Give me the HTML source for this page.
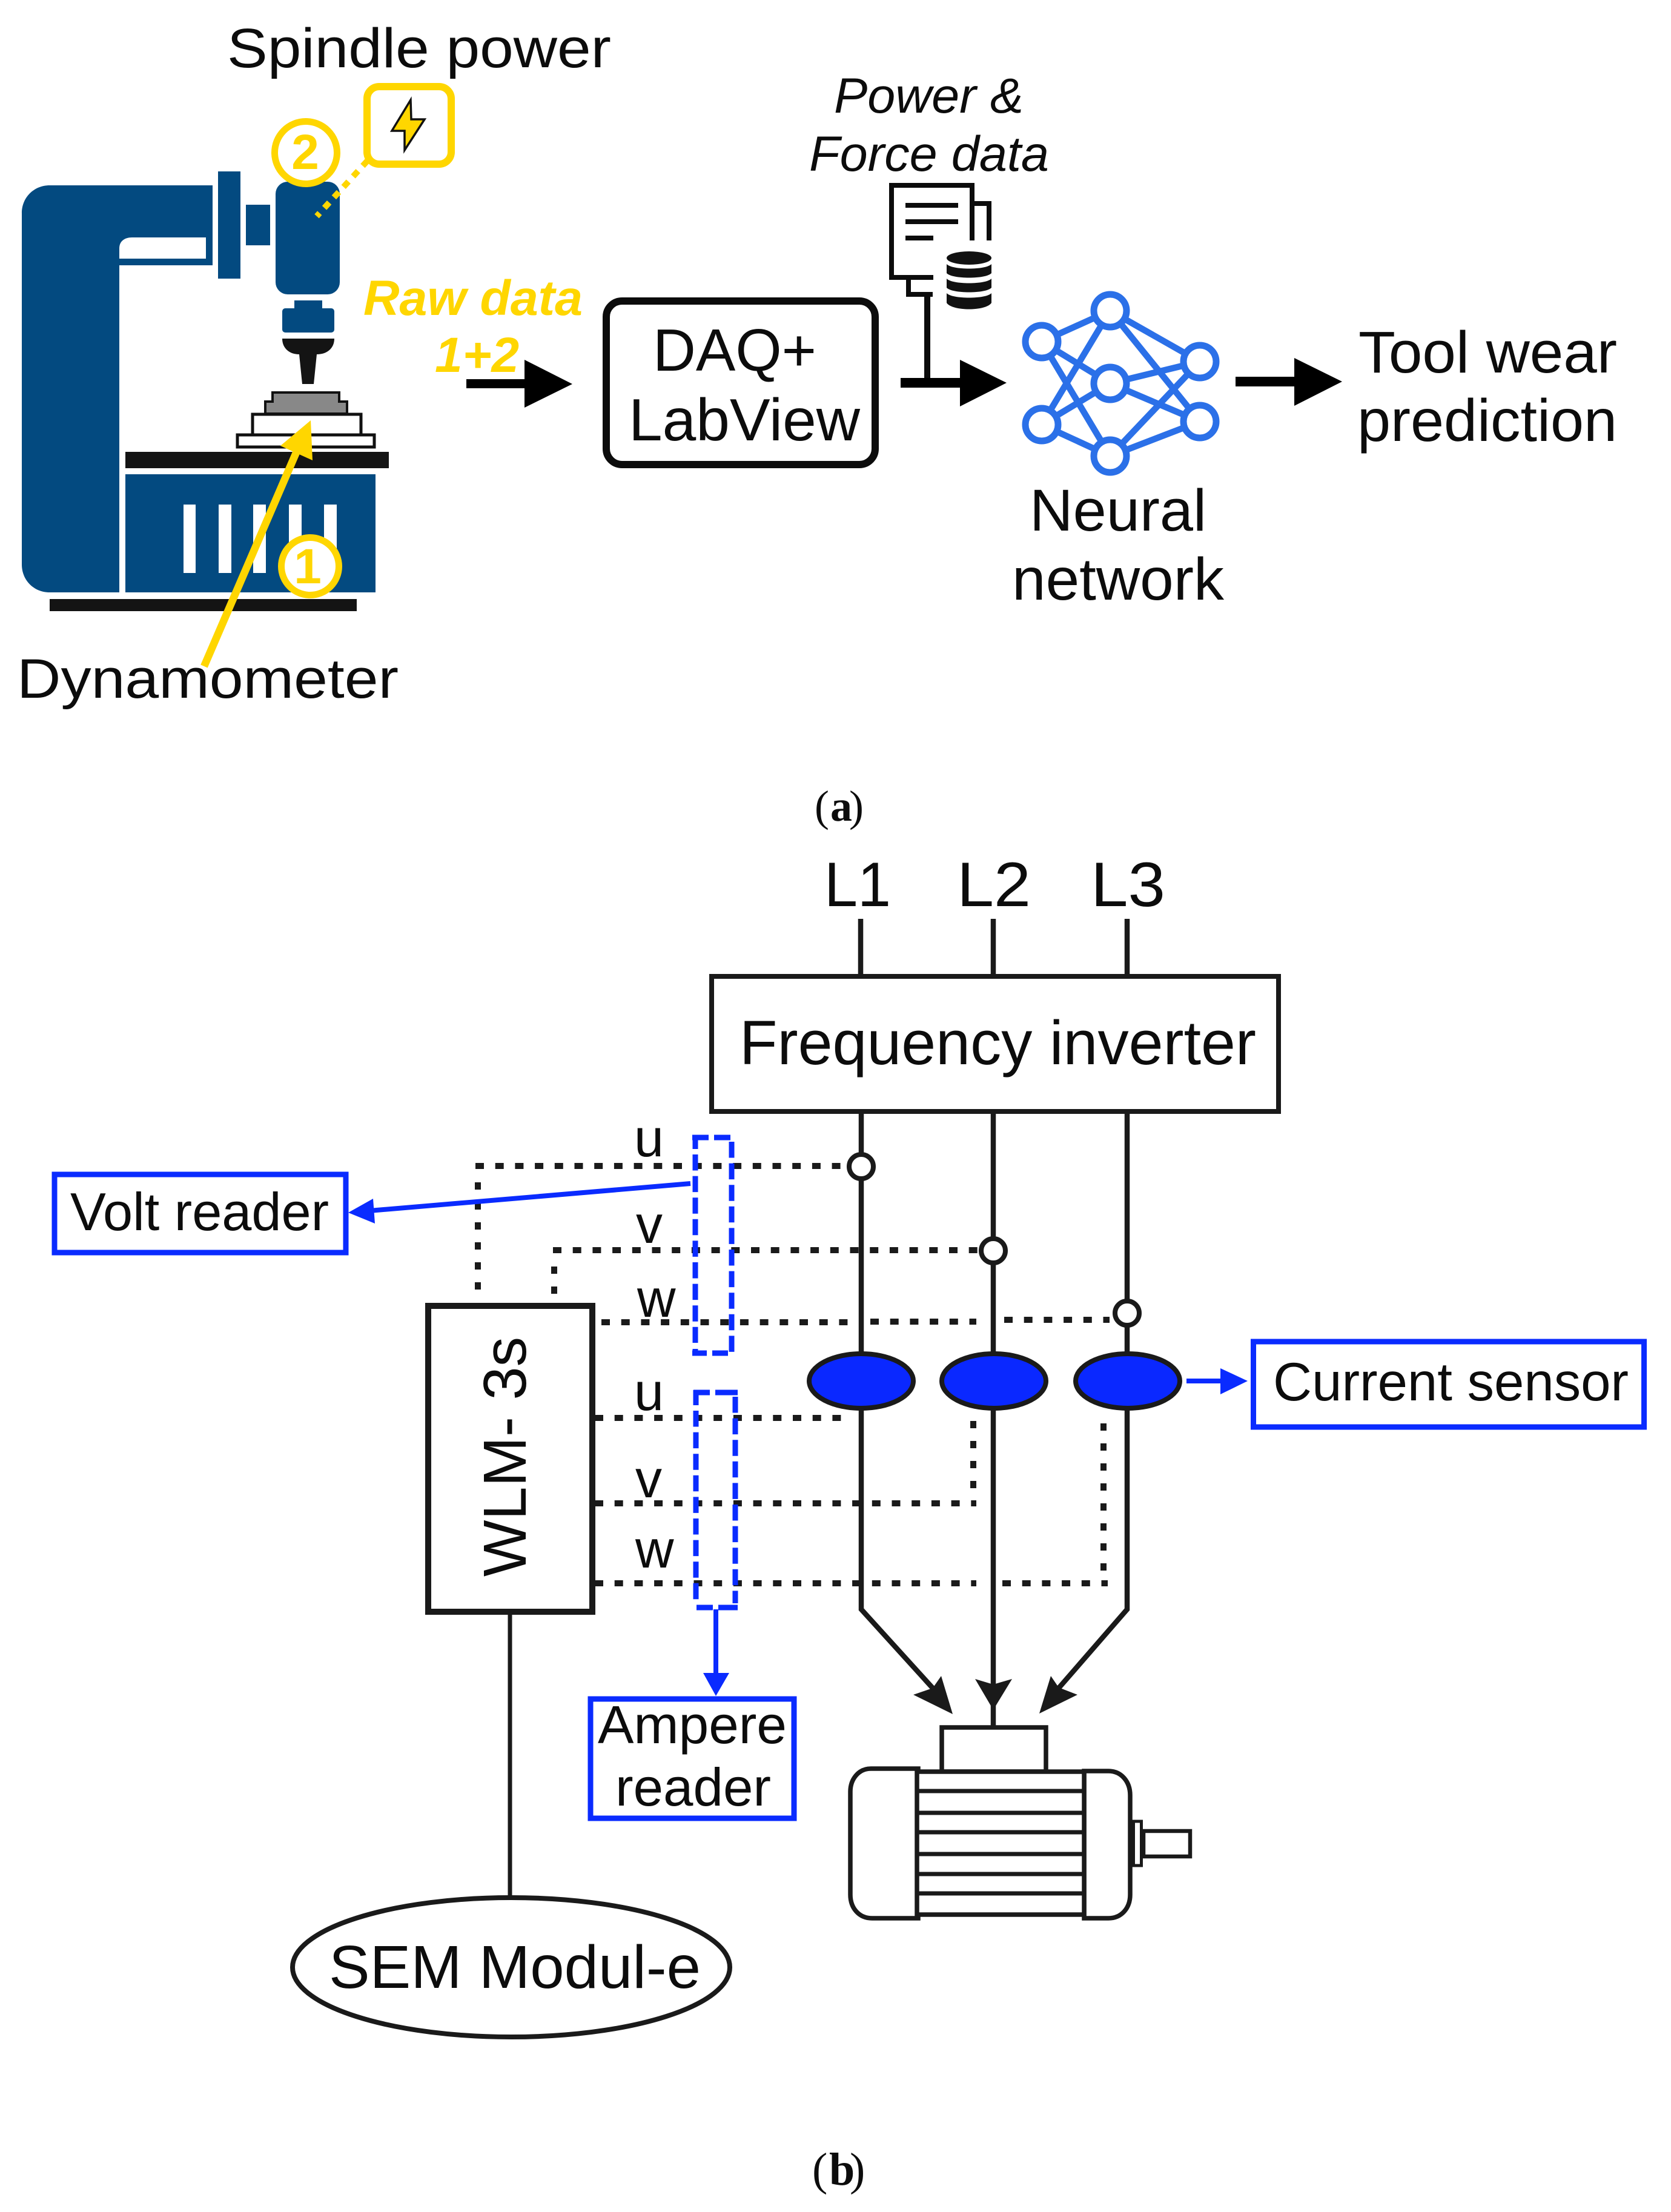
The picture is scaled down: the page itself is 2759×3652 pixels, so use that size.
<!DOCTYPE html>
<html>
<head>
<meta charset="utf-8">
<style>
html,body{margin:0;padding:0;background:#fff;}
svg{display:block;}
text{font-family:"Liberation Sans",sans-serif;fill:#0c0c0c;}
.serif{font-family:"Liberation Serif",serif;}
.dot{fill:none;stroke:#1a1a1a;stroke-width:10;stroke-dasharray:14 18.7;}
.dv{fill:none;stroke:#1a1a1a;stroke-width:10;stroke-dasharray:12 21;}
.dash{fill:none;stroke:#0a2bff;stroke-width:9;stroke-dasharray:26.5 9.1;}
.sol{fill:none;stroke:#0a2bff;stroke-width:9;}
.wire{fill:none;stroke:#1a1a1a;stroke-width:8.5;}
.bx{fill:#fff;stroke:#0a2bff;stroke-width:9;}
.m{fill:#034a80;}
.k{fill:#141414;}
.nn{stroke:#2b70e8;stroke-width:10.5;fill:none;}
</style>
</head>
<body>
<svg xmlns="http://www.w3.org/2000/svg" width="2759" height="3652" viewBox="0 0 2759 3652">
<rect width="2759" height="3652" fill="#fff"/>

<!-- (a) machine -->
<path class="m" d="M351 306H82C56 306 36 326 36 352V932C36 958 56 978 82 978H197V438H351Z"/>
<path fill="#fff" d="M197 427V410C197 398 206 392 218 392H340V427Z"/>
<rect class="m" x="360" y="283" width="37" height="177"/>
<rect class="m" x="406" y="338" width="40" height="67"/>
<rect class="m" x="455" y="300" width="106" height="186" rx="20"/>
<rect class="m" x="486" y="496" width="46" height="20"/>
<rect class="m" x="466" y="509" width="86" height="40" rx="5"/>
<path class="k" d="M466 559H552C552 575 540 585 523 585L518 634H499L494 585C478 585 466 575 466 559Z"/>
<path fill="#888" stroke="#111" stroke-width="4" d="M450 663V648H560V663H573V683H438V663Z"/>
<rect x="417" y="684" width="179" height="34" fill="#fff" stroke="#111" stroke-width="5"/>
<rect x="392" y="718" width="226" height="20" fill="#fff" stroke="#111" stroke-width="5"/>
<rect class="k" x="207" y="746" width="435" height="27"/>
<rect class="m" x="207" y="783" width="413" height="195"/>
<g fill="#fff">
<rect x="303" y="833" width="20" height="113"/>
<rect x="361" y="833" width="21" height="113"/>
<rect x="418" y="833" width="21" height="113"/>
<rect x="477" y="833" width="21" height="113"/>
<rect x="535" y="833" width="21" height="113"/>
</g>
<rect class="k" x="82" y="989" width="507" height="20"/>

<!-- yellow annotations -->
<line x1="337" y1="1100" x2="490" y2="745" stroke="#ffd600" stroke-width="12.5"/>
<polygon points="513,694 463,736 516,760" fill="#ffd600"/>
<circle cx="512" cy="935" r="47.5" fill="#fff" stroke="#ffd600" stroke-width="11"/>
<text x="508" y="963" font-size="82" font-weight="bold" text-anchor="middle" style="fill:#ffd600">1</text>
<circle cx="505" cy="252" r="51.5" fill="#fff" stroke="#ffd600" stroke-width="11"/>
<text x="504" y="279" font-size="82" font-weight="bold" text-anchor="middle" style="fill:#ffd600">2</text>
<rect x="606" y="143" width="139" height="128" rx="20" fill="#fff" stroke="#ffd600" stroke-width="12"/>
<polygon points="678,165 647,216 668,216 668,248 701,197 679,197" fill="#ffd600" stroke="#111" stroke-width="3.5"/>
<line x1="607" y1="265" x2="523" y2="357" stroke="#ffd600" stroke-width="10" stroke-dasharray="12 11.5"/>

<text x="375" y="111" font-size="92" textLength="634" lengthAdjust="spacingAndGlyphs">Spindle power</text>
<text x="28" y="1152" font-size="92" textLength="630" lengthAdjust="spacingAndGlyphs">Dynamometer</text>
<text x="600" y="520" font-size="82" font-weight="bold" font-style="italic" textLength="362" lengthAdjust="spacingAndGlyphs" style="fill:#ffd600">Raw data</text>
<text x="718" y="614" font-size="82" font-weight="bold" font-style="italic" style="fill:#ffd600">1+2</text>

<!-- flow arrows -->
<rect x="770" y="626" width="100" height="15" fill="#000"/>
<polygon points="866,594 945,634 866,673" fill="#000"/>
<rect x="1001" y="497" width="444" height="270" rx="26" fill="#fff" stroke="#0c0c0c" stroke-width="12"/>
<text x="1078" y="612" font-size="98" textLength="270" lengthAdjust="spacingAndGlyphs">DAQ+</text>
<text x="1038" y="727" font-size="98" textLength="382" lengthAdjust="spacingAndGlyphs">LabView</text>

<text x="1377" y="186" font-size="82" font-style="italic" textLength="313" lengthAdjust="spacingAndGlyphs">Power &amp;</text>
<text x="1336" y="282" font-size="82" font-style="italic" textLength="396" lengthAdjust="spacingAndGlyphs">Force data</text>

<!-- document + db icon -->
<path fill="none" stroke="#0c0c0c" stroke-width="8" d="M1541 458H1472V306H1605V397M1609 336H1633V397"/>
<path fill="none" stroke="#0c0c0c" stroke-width="8" d="M1500 462V486H1540"/>
<path stroke="#0c0c0c" stroke-width="8" d="M1495 339H1582M1495 366H1582M1495 393H1541"/>
<g fill="#111">
<ellipse cx="1600" cy="426" rx="37" ry="11"/>
<path d="M1563 436C1572 446 1628 446 1637 436V451C1628 461 1572 461 1563 451Z"/>
<path d="M1563 460C1572 470 1628 470 1637 460V475C1628 485 1572 485 1563 475Z"/>
<path d="M1563 484C1572 494 1628 494 1637 484V500C1628 514 1572 514 1563 500Z"/>
</g>
<line x1="1531" y1="486" x2="1531" y2="628" stroke="#0c0c0c" stroke-width="10"/>
<rect x="1487" y="624" width="102" height="16" fill="#000"/>
<polygon points="1585,594 1662,632 1585,671" fill="#000"/>

<!-- neural network -->
<g class="nn">
<path d="M1720 564L1833 513L1981 597M1833 513L1981 696M1833 513L1720 701M1720 564L1833 753M1720 564L1833 633L1981 597M1833 633L1981 696M1833 633L1720 701M1720 701L1833 753L1981 696M1833 753L1981 597"/>
</g>
<g fill="#fff" stroke="#2b70e8" stroke-width="11">
<circle cx="1720" cy="564" r="27"/>
<circle cx="1833" cy="513" r="27"/>
<circle cx="1981" cy="597" r="27"/>
<circle cx="1833" cy="633" r="27"/>
<circle cx="1720" cy="701" r="27"/>
<circle cx="1981" cy="696" r="27"/>
<circle cx="1833" cy="753" r="27"/>
</g>
<text x="1700" y="876" font-size="97" textLength="292" lengthAdjust="spacingAndGlyphs">Neural</text>
<text x="1671" y="990" font-size="98" textLength="350" lengthAdjust="spacingAndGlyphs">network</text>
<rect x="2040" y="622" width="100" height="16" fill="#000"/>
<polygon points="2137,591 2216,630 2137,670" fill="#000"/>
<text x="2243" y="615" font-size="97" textLength="427" lengthAdjust="spacingAndGlyphs">Tool wear</text>
<text x="2241" y="728" font-size="98" textLength="429" lengthAdjust="spacingAndGlyphs">prediction</text>

<text class="serif" x="1345" y="1355" font-size="72">(</text>
<text class="serif" x="1371" y="1355" font-size="72" font-weight="bold">a</text>
<text class="serif" x="1402" y="1355" font-size="72">)</text>

<!-- (b) inverter -->
<path class="wire" d="M1421 1517V1612M1640 1517V1612M1861 1517V1612"/>
<rect x="1175" y="1612" width="936" height="223" fill="#fff" stroke="#1a1a1a" stroke-width="8"/>
<text x="1221" y="1757" font-size="103" textLength="853" lengthAdjust="spacingAndGlyphs">Frequency inverter</text>
<text x="1361" y="1496" font-size="104" textLength="110" lengthAdjust="spacingAndGlyphs">L1</text>
<text x="1580" y="1496" font-size="104" textLength="122" lengthAdjust="spacingAndGlyphs">L2</text>
<text x="1801" y="1496" font-size="104" textLength="123" lengthAdjust="spacingAndGlyphs">L3</text>

<!-- power lines -->
<path class="wire" d="M1422 1835V2657L1540 2787"/>
<path class="wire" d="M1640 1835V2849"/>
<path class="wire" d="M1861 1835V2657L1748 2787"/>
<polygon points="1573,2830 1554,2767 1540,2787 1508,2798" fill="#1a1a1a"/>
<polygon points="1716,2829 1735,2767 1748,2786 1779,2798" fill="#1a1a1a"/>
<polygon points="1640,2823 1610,2772 1640,2781 1671,2772" fill="#1a1a1a"/>

<!-- dotted -->
<path class="dot" d="M785 1925H1392"/>
<path class="dv" d="M789 1952V2135"/>
<path class="dot" d="M913 2064H1616"/>
<path class="dv" d="M915 2091V2139"/>
<path class="dot" d="M993 2183H1402"/>
<path class="dot" d="M1437 2182H1612"/>
<path class="dot" d="M1658 2179H1832"/>
<path class="dot" d="M982 2341H1392"/>
<path class="dot" d="M982 2482H1612"/>
<path class="dv" d="M1607 2346V2478"/>
<path class="dot" d="M982 2614H1612"/>
<path class="dot" d="M1655 2614H1829"/>
<path class="dv" d="M1822 2350V2610"/>

<!-- tap circles -->
<g fill="#fff" stroke="#1a1a1a" stroke-width="8">
<circle cx="1422" cy="1926" r="20"/>
<circle cx="1640" cy="2065" r="20"/>
<circle cx="1861" cy="2168" r="20"/>
</g>
<!-- current sensors -->
<g fill="#0a28ff" stroke="#1a1a1a" stroke-width="8">
<ellipse cx="1422" cy="2280" rx="86" ry="45"/>
<ellipse cx="1641" cy="2280" rx="86" ry="45"/>
<ellipse cx="1862" cy="2280" rx="86" ry="45"/>
</g>
<line x1="1959" y1="2280" x2="2020" y2="2280" stroke="#0a2bff" stroke-width="8"/>
<polygon points="2015,2259 2060,2280 2015,2302" fill="#0a2bff"/>
<rect class="bx" x="2069.5" y="2215" width="645" height="141"/>
<text x="2102" y="2312" font-size="89" textLength="587" lengthAdjust="spacingAndGlyphs">Current sensor</text>

<!-- volt / ampere dashed boxes -->
<path class="sol" d="M1143 1878H1170M1179 1878H1206M1143 2234H1167M1176 2234H1202"/>
<path class="sol" d="M1148 1874V1897M1148 2227V2238"/>
<path class="dash" d="M1148 1906V2217"/>
<path class="dash" d="M1208 1885V2232"/>
<path class="sol" d="M1145 2299H1172M1181 2299H1218M1150 2654H1177M1186 2654H1218"/>
<path class="sol" d="M1149 2295V2320"/>
<path class="dash" d="M1149 2329V2647"/>
<path class="dash" d="M1214 2306V2647"/>

<rect class="bx" x="90" y="1939" width="481" height="129"/>
<text x="116" y="2031" font-size="88" textLength="427" lengthAdjust="spacingAndGlyphs">Volt reader</text>
<line x1="1140" y1="1954" x2="610" y2="1999" stroke="#0a2bff" stroke-width="8"/>
<polygon points="575,2002 616,1979 619,2020" fill="#0a2bff"/>
<line x1="1182" y1="2657" x2="1182" y2="2770" stroke="#0a2bff" stroke-width="8"/>
<polygon points="1161,2762 1204,2762 1182,2800" fill="#0a2bff"/>
<rect class="bx" x="975" y="2805" width="336" height="197" stroke-width="10"/>
<text x="987" y="2878" font-size="88" textLength="312" lengthAdjust="spacingAndGlyphs">Ampere</text>
<text x="1016" y="2981" font-size="88" textLength="257" lengthAdjust="spacingAndGlyphs">reader</text>

<!-- WLM -->
<rect x="707" y="2156" width="271" height="505" fill="#fff" stroke="#1a1a1a" stroke-width="10"/>
<text transform="translate(868 2603) rotate(-90)" font-size="100" textLength="396" lengthAdjust="spacingAndGlyphs">WLM- 3s</text>
<line x1="842" y1="2664" x2="842" y2="3130" stroke="#1a1a1a" stroke-width="7"/>
<ellipse cx="844" cy="3248" rx="361" ry="115" fill="#fff" stroke="#1a1a1a" stroke-width="8"/>
<text x="543" y="3282" font-size="100" textLength="614" lengthAdjust="spacingAndGlyphs">SEM Modul-e</text>

<!-- u v w labels -->
<g font-size="88">
<text x="1047" y="1909">u</text>
<text x="1050" y="2052">v</text>
<text x="1052" y="2174">w</text>
<text x="1047" y="2328">u</text>
<text x="1049" y="2472">v</text>
<text x="1049" y="2588">w</text>
</g>

<!-- motor -->
<g fill="#fff" stroke="#1a1a1a" stroke-width="7.5">
<rect x="1555" y="2852" width="172" height="73"/>
<path d="M1516 2920H1438C1417 2920 1404 2938 1404 2958V3128C1404 3150 1418 3167 1440 3167H1516Z"/>
<path d="M1790 2924H1830C1852 2924 1866 2942 1866 2964V3128C1866 3150 1852 3167 1830 3167H1790Z"/>
<rect x="1514" y="2925" width="276" height="236"/>
</g>
<rect x="1871.5" y="3007" width="13" height="73" fill="#fff" stroke="#1a1a1a" stroke-width="5"/>
<rect x="1888" y="3023" width="77" height="42" fill="#fff" stroke="#1a1a1a" stroke-width="6.5"/>
<path stroke="#1a1a1a" stroke-width="7" d="M1514 2957H1790M1514 2993H1790M1514 3025H1790M1514 3061H1790M1514 3094H1790M1514 3126H1790"/>

<text class="serif" x="1341" y="3607" font-size="76">(</text>
<text class="serif" x="1369" y="3607" font-size="76" font-weight="bold">b</text>
<text class="serif" x="1403" y="3607" font-size="76">)</text>
</svg>
</body>
</html>
